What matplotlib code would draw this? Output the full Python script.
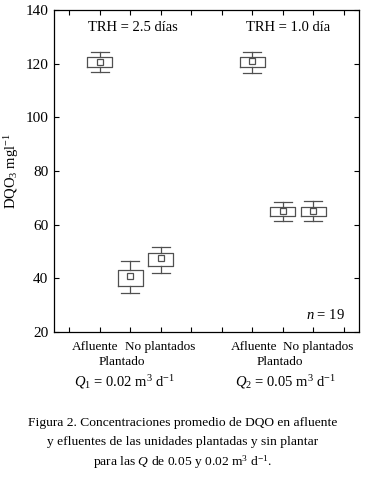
import matplotlib.pyplot as plt
from matplotlib import transforms

# box statistics
positions = [1, 2, 3, 6, 7, 8]
means = [120.5, 40.7, 47.4, 121.0, 64.9, 64.9]
box_lo = [118.9, 37.1, 44.6, 118.7, 63.3, 63.3]
box_hi = [122.4, 43.1, 49.4, 122.6, 66.4, 66.4]
whis_lo = [116.8, 34.5, 42.0, 116.4, 61.3, 61.3]
whis_hi = [124.3, 46.4, 51.6, 124.5, 68.4, 68.8]

yticks = [20, 40, 60, 80, 100, 120, 140]

plt.rcParams['font.family'] = ['Liberation Serif', 'DejaVu Serif']
plt.rcParams['mathtext.fontset'] = 'custom'
plt.rcParams['mathtext.rm'] = 'Liberation Serif'
plt.rcParams['mathtext.it'] = 'Liberation Serif:italic'

fig = plt.figure(figsize=(3.66, 4.88), dpi=100)
ax = fig.add_axes([0.1475, 0.3197, 0.8335, 0.66])

gray = '#505050'
stats = []
for i in range(len(positions)):
    stats.append({'med': means[i], 'mean': means[i], 'q1': box_lo[i], 'q3': box_hi[i],
                  'whislo': whis_lo[i], 'whishi': whis_hi[i], 'fliers': []})

ax.bxp(stats, positions=positions, widths=0.82, capwidths=0.6, showmeans=True,
       showfliers=False, manage_ticks=False,
       boxprops=dict(color=gray, linewidth=0.9),
       whiskerprops=dict(color=gray, linewidth=0.9),
       capprops=dict(color=gray, linewidth=0.9),
       medianprops=dict(linewidth=0),
       meanprops=dict(marker='s', markersize=5, markerfacecolor='white',
                      markeredgecolor=gray, markeredgewidth=0.9))

ax.set_xlim(-0.5, 9.5)
ax.set_ylim(20, 140)
ax.set_yticks(yticks)
ax.set_xticks(range(10))
ax.set_xticklabels([])
ax.tick_params(direction='in', top=True, right=True, labelsize=11, length=3.5, width=0.8, pad=4)
for s in ax.spines.values():
    s.set_linewidth(0.9)

ax.set_ylabel('DQO$_3$ mgl$^{-1}$', fontsize=10.5, labelpad=3)

ax.text(2.07, 133.3, 'TRH = 2.5 días', ha='center', va='center', fontsize=10.5)
ax.text(7.16, 133.3, 'TRH = 1.0 día', ha='center', va='center', fontsize=10.5)
ax.text(9.05, 26.5, '$n$ = 19', ha='right', va='center', fontsize=10.5)

trans = transforms.blended_transform_factory(ax.transData, fig.transFigure)
fs = 9.5
ax.text(0.85, 1 - 346.7 / 488, 'Afluente', transform=trans, ha='center', va='center', fontsize=fs)
ax.text(2.98, 1 - 346.7 / 488, 'No plantados', transform=trans, ha='center', va='center', fontsize=fs)
ax.text(1.72, 1 - 361.7 / 488, 'Plantado', transform=trans, ha='center', va='center', fontsize=fs)
ax.text(1.83, 1 - 382 / 488, '$Q_1$ = 0.02 m$^3$ d$^{-1}$', transform=trans, ha='center', va='center', fontsize=10.5)
ax.text(6.07, 1 - 346.7 / 488, 'Afluente', transform=trans, ha='center', va='center', fontsize=fs)
ax.text(8.17, 1 - 346.7 / 488, 'No plantados', transform=trans, ha='center', va='center', fontsize=fs)
ax.text(6.92, 1 - 361.7 / 488, 'Plantado', transform=trans, ha='center', va='center', fontsize=fs)
ax.text(7.09, 1 - 382 / 488, '$Q_2$ = 0.05 m$^3$ d$^{-1}$', transform=trans, ha='center', va='center', fontsize=10.5)

caption = ['Figura 2. Concentraciones promedio de DQO en afluente',
           'y efluentes de las unidades plantadas y sin plantar',
           'para las $Q$ de 0.05 y 0.02 m$^3$ d$^{-1}$.']
for k, line in enumerate(caption):
    fig.text(0.5, 1 - (423 + 19.5 * k) / 488, line, ha='center', va='center', fontsize=9.7)

fig.savefig('out.png', dpi=100)
